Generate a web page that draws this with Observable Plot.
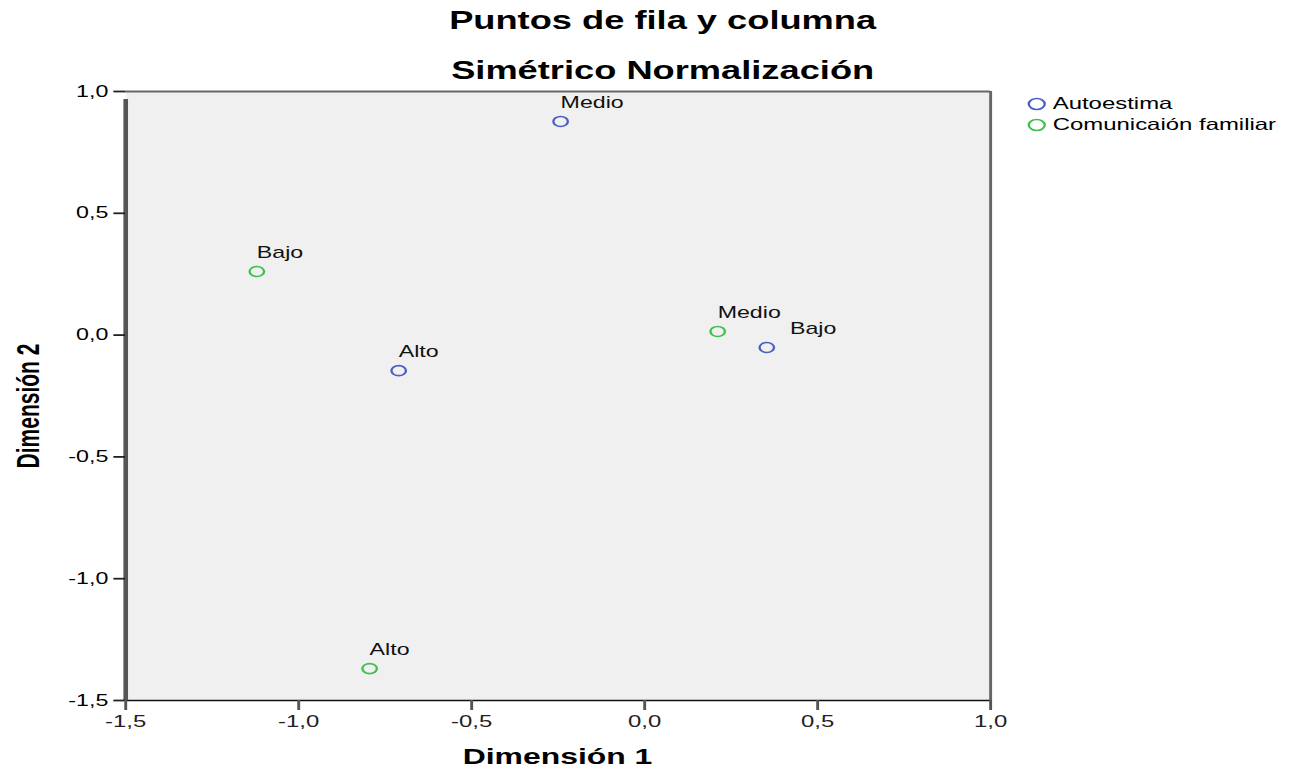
<!DOCTYPE html>
<html>
<head>
<meta charset="utf-8">
<script src="https://cdn.jsdelivr.net/npm/d3@7"></script>
<script src="https://cdn.jsdelivr.net/npm/@observablehq/plot@0.6"></script>
<style>
  html, body { margin: 0; padding: 0; background: #fff; }
  body { width: 1297px; height: 776px; overflow: hidden; }
  #wrap { position: absolute; left: 0; top: 0; width: 894.5px; height: 776px;
          transform: scaleX(1.45); transform-origin: 0 0;
          font-family: "Liberation Sans", Arial, sans-serif; color: #000; }
  .title { position: absolute; left: 457px; transform: translateX(-50%); white-space: nowrap;
           font-weight: bold; font-size: 25px; line-height: 1; }
  .xlab { position: absolute; left: 384.5px; top: 744px; transform: translateX(-50%);
          font-weight: bold; font-size: 22px; white-space: nowrap; }
  .ylab { position: absolute; left: 19.5px; top: 406px; transform: translate(-50%, -50%) rotate(-90deg);
          font-weight: bold; font-size: 21px; white-space: nowrap; }
  #legend { position: absolute; left: 708px; top: 93px; font-size: 16.5px; line-height: 21px; }
  #legend .row { display: flex; align-items: center; white-space: nowrap; }
  #legend svg { margin-right: 4px; }
</style>
</head>
<body>
<div id="wrap">
  <div class="title" style="top:8px">Puntos de fila y columna</div>
  <div class="title" style="top:58px">Simétrico Normalización</div>
  <div class="xlab">Dimensión 1</div>
  <div class="ylab">Dimensión 2</div>
  <div id="legend"></div>
  <div id="chart"></div>
</div>
<script>
// Data
const groups = ["Autoestima", "Comunicaión familiar"];
const groupColors = ["#4a5fc4", "#3ec04c"];
const categories = ["Alto", "Medio", "Bajo"];
const autoestimaDim1 = [-0.711, -0.243, 0.353];
const autoestimaDim2 = [-0.146, 0.877, -0.051];
const comunicacionDim1 = [-0.795, 0.211, -1.121];
const comunicacionDim2 = [-1.369, 0.015, 0.261];
const axisTicks = [-1.5, -1.0, -0.5, 0.0, 0.5, 1.0];

const points = [
  ...categories.map((c, i) => ({group: groups[0], label: c, x: autoestimaDim1[i], y: autoestimaDim2[i]})),
  ...categories.map((c, i) => ({group: groups[1], label: c, x: comunicacionDim1[i], y: comunicacionDim2[i]}))
];

const fmt = d => d.toFixed(1).replace(".", ",");
const isShifted = d => d.group === groups[0] && d.label === "Bajo";

const chart = Plot.plot({
  width: 894.5,
  height: 776,
  marginLeft: 86.2,
  marginRight: 211.8,
  marginTop: 91,
  marginBottom: 76,
  style: {fontFamily: '"Liberation Sans", Arial, sans-serif', fontSize: "16px", color: "#000", background: "transparent"},
  x: {domain: [-1.5, 1.0], ticks: axisTicks, tickFormat: fmt},
  y: {domain: [-1.5, 1.0], ticks: axisTicks, tickFormat: fmt},
  color: {domain: groups, range: groupColors},
  marks: [
    Plot.frame({fill: "#f0f0f0", stroke: null}),
    Plot.ruleY([1.0], {stroke: "#666", strokeWidth: 2}),
    Plot.ruleX([1.0], {stroke: "#666", strokeWidth: 2}),
    Plot.ruleY([-1.5], {stroke: "#111", strokeWidth: 1.5}),
    Plot.ruleX([-1.5], {stroke: "#555", strokeWidth: 3.2, y1: -1.5, y2: 1.0, insetBottom: -8}),
    Plot.axisY({ticks: axisTicks, tickFormat: fmt, tickSize: 8, tickPadding: 4, strokeWidth: 1.8, stroke: "#222", fontSize: 16, label: null}),
    Plot.axisX({ticks: axisTicks, tickFormat: fmt, tickSize: 10, tickPadding: 5, strokeWidth: 2, stroke: "#555", fill: "#222", fontSize: 16.5, label: null}),
    Plot.dot(points, {x: "x", y: "y", stroke: "group", r: 5, strokeWidth: 1.6, fill: "none"}),
    Plot.text(points.filter(d => !isShifted(d)), {x: "x", y: "y", text: "label", textAnchor: "start", dx: 0, dy: -19, fontSize: 16, fill: "#111"}),
    Plot.text(points.filter(isShifted), {x: "x", y: "y", text: "label", textAnchor: "start", dx: 16, dy: -19, fontSize: 16, fill: "#111"})
  ]
});
document.getElementById("chart").appendChild(chart);

const legend = document.getElementById("legend");
groups.forEach((g, i) => {
  const row = document.createElement("div");
  row.className = "row";
  row.innerHTML = `<svg width="14" height="14"><circle cx="7" cy="7" r="5.5" fill="none" stroke="${groupColors[i]}" stroke-width="1.6"/></svg><span>${g}</span>`;
  legend.appendChild(row);
});
</script>
</body>
</html>
